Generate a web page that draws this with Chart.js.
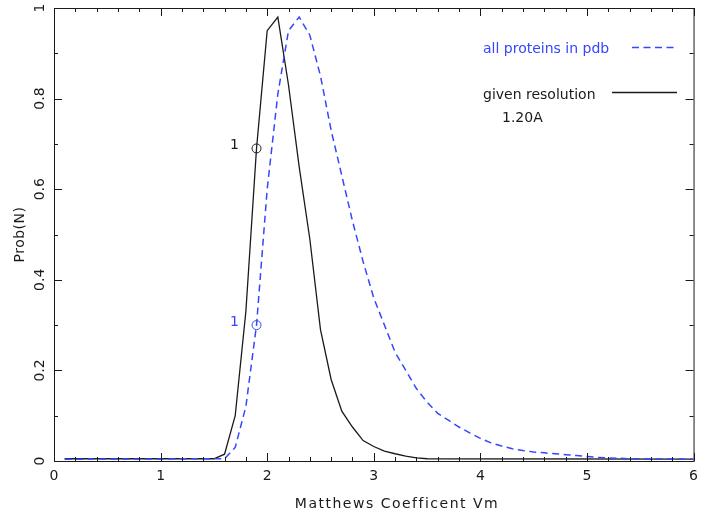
<!DOCTYPE html>
<html>
<head>
<meta charset="utf-8">
<script src="https://cdn.jsdelivr.net/npm/chart.js@4/dist/chart.umd.min.js"></script>
<style>
  html, body { margin: 0; padding: 0; background: #fff; }
  #wrap { width: 705px; height: 515px; }
</style>
</head>
<body>
<div id="wrap"><canvas id="c" width="705" height="515"></canvas></div>
<script>
// Matthews coefficient probability curves
const xAll = [0.1, 1.6, 1.7, 1.8, 1.9, 2.0, 2.1, 2.2, 2.3, 2.4, 2.5, 2.6, 2.7, 2.8, 2.9, 3.0,
              3.1, 3.2, 3.3, 3.4, 3.5, 3.6, 3.7, 3.8, 3.9, 4.0, 4.1, 4.2, 4.3, 4.4, 4.5,
              4.6, 4.7, 4.8, 4.9, 5.0, 5.1, 5.2, 5.3, 5.4, 6.0];
const yAll = [0.004, 0.005, 0.03, 0.12, 0.30, 0.60, 0.81, 0.95, 0.98, 0.94, 0.85, 0.73, 0.63, 0.53, 0.44, 0.36,
              0.30, 0.24, 0.20, 0.16, 0.13, 0.105, 0.09, 0.075, 0.062, 0.05, 0.04, 0.033, 0.027, 0.023, 0.02,
              0.018, 0.016, 0.014, 0.012, 0.010, 0.008, 0.007, 0.006, 0.005, 0.004];

const xRes = [0.1, 1.5, 1.6, 1.7, 1.8, 1.9, 2.0, 2.1, 2.2, 2.3, 2.4, 2.5, 2.6, 2.7, 2.8, 2.9, 3.0,
              3.1, 3.2, 3.3, 3.4, 3.5, 6.0];
const yRes = [0.005, 0.005, 0.015, 0.10, 0.33, 0.69, 0.95, 0.98, 0.83, 0.65, 0.49, 0.29, 0.18, 0.11, 0.075, 0.045, 0.032,
              0.022, 0.016, 0.011, 0.007, 0.005, 0.004];

// marked solution (number of molecules = 1) on each curve
const markX = [1.9];
const markAll = [0.30];
const markRes = [0.69];
const markText = ['1'];

const xTickLabels = ['0', '1', '2', '3', '4', '5', '6'];
const yTickLabels = ['0', '0.2', '0.4', '0.6', '0.8', '1'];

const legendAll = 'all proteins in pdb';
const legendRes = ['given resolution', '1.20A'];
const xTitle = 'Matthews Coefficent Vm';
const yTitle = 'Prob(N)';

const BLUE = '#3447ff';
const INK = '#1a1a1a';
const FONT = '"DejaVu Sans", "Liberation Sans", sans-serif';

const toPts = (xs, ys) => xs.map((x, i) => ({ x: x, y: ys[i] }));

function range(min, max, step) {
  const out = [];
  const n = Math.round((max - min) / step);
  for (let i = 0; i <= n; i++) out.push(+(min + i * step).toFixed(6));
  return out;
}

const decorations = {
  id: 'decorations',
  afterDatasetsDraw(chart) {
    const { ctx, chartArea: a, scales } = chart;
    const xs = scales.x, ys = scales.y;
    ctx.save();
    ctx.strokeStyle = INK;
    ctx.lineWidth = 1;
    // frame
    ctx.strokeRect(a.left + 0.5, a.top + 0.5, a.right - a.left, a.bottom - a.top);

    // inward ticks on all four sides
    ctx.beginPath();
    range(xs.min, xs.max, 0.2).forEach(v => {
      const px = Math.round(xs.getPixelForValue(v)) + 0.5;
      const major = Math.abs(v - Math.round(v)) < 1e-6;
      const len = major ? 8 : 4;
      ctx.moveTo(px, a.bottom); ctx.lineTo(px, a.bottom - len);
      ctx.moveTo(px, a.top); ctx.lineTo(px, a.top + len);
    });
    range(ys.min, ys.max, 0.1).forEach(v => {
      const py = Math.round(ys.getPixelForValue(v)) + 0.5;
      const major = Math.abs(v * 5 - Math.round(v * 5)) < 1e-6;
      const len = major ? 8 : 4;
      ctx.moveTo(a.left, py); ctx.lineTo(a.left + len, py);
      ctx.moveTo(a.right, py); ctx.lineTo(a.right - len, py);
    });
    ctx.stroke();

    // y tick labels, rotated
    ctx.fillStyle = INK;
    ctx.font = '14px ' + FONT;
    ctx.textAlign = 'center';
    ctx.textBaseline = 'middle';
    ys.ticks.forEach((t, i) => {
      const py = ys.getPixelForValue(t.value);
      ctx.save();
      ctx.translate(40, py);
      ctx.rotate(-Math.PI / 2);
      ctx.fillText(yTickLabels[i], 0, 0);
      ctx.restore();
    });

    // axis titles
    ctx.font = '14px ' + FONT;
    ctx.letterSpacing = '1.5px';
    ctx.textAlign = 'center';
    ctx.textBaseline = 'alphabetic';
    ctx.fillText(xTitle, 397, 508);
    ctx.letterSpacing = '0.5px';
    ctx.save();
    ctx.translate(24, (a.top + a.bottom) / 2);
    ctx.rotate(-Math.PI / 2);
    ctx.fillText(yTitle, 0, 0);
    ctx.restore();

    // legend
    ctx.textAlign = 'left';
    ctx.letterSpacing = '0px';
    ctx.font = '14px ' + FONT;
    ctx.fillStyle = BLUE;
    ctx.fillText(legendAll, 483, 53);
    ctx.strokeStyle = BLUE;
    ctx.lineWidth = 1.5;
    ctx.setLineDash([7, 4.5]);
    ctx.beginPath(); ctx.moveTo(632, 47.5); ctx.lineTo(676, 47.5); ctx.stroke();
    ctx.setLineDash([]);
    ctx.fillStyle = INK;
    ctx.fillText(legendRes[0], 483, 99);
    ctx.fillText(legendRes[1], 502, 122);
    ctx.strokeStyle = INK;
    ctx.lineWidth = 1.3;
    ctx.beginPath(); ctx.moveTo(612, 92.5); ctx.lineTo(677, 92.5); ctx.stroke();

    // solution labels next to the circles
    ctx.textAlign = 'center';
    ctx.textBaseline = 'middle';
    markX.forEach((x, i) => {
      const px = xs.getPixelForValue(x) - 22;
      ctx.fillStyle = INK;
      ctx.fillText(markText[i], px, ys.getPixelForValue(markRes[i]) - 3);
      ctx.fillStyle = BLUE;
      ctx.fillText(markText[i], px, ys.getPixelForValue(markAll[i]) - 3);
    });
    ctx.restore();
  }
};

new Chart(document.getElementById('c'), {
  type: 'line',
  data: {
    datasets: [
      {
        label: legendAll,
        data: toPts(xAll, yAll),
        borderColor: BLUE,
        borderWidth: 1.5,
        borderDash: [7, 4.5],
        pointRadius: 0,
        tension: 0,
        fill: false
      },
      {
        label: legendRes[0],
        data: toPts(xRes, yRes),
        borderColor: INK,
        borderWidth: 1.3,
        pointRadius: 0,
        tension: 0,
        fill: false
      },
      {
        type: 'scatter',
        data: toPts(markX, markAll),
        borderColor: BLUE,
        backgroundColor: 'rgba(0,0,0,0)',
        borderWidth: 1,
        pointRadius: 4.5,
        showLine: false
      },
      {
        type: 'scatter',
        data: toPts(markX, markRes),
        borderColor: INK,
        backgroundColor: 'rgba(0,0,0,0)',
        borderWidth: 1,
        pointRadius: 4.5,
        showLine: false
      }
    ]
  },
  options: {
    responsive: false,
    animation: false,
    layout: { padding: { left: 0, right: 8, top: 8, bottom: 0 } },
    plugins: { legend: { display: false }, tooltip: { enabled: false } },
    scales: {
      x: {
        type: 'linear',
        min: 0, max: 6,
        grid: { display: false, drawTicks: false },
        border: { display: false },
        ticks: {
          stepSize: 1,
          padding: 7,
          color: INK,
          font: { family: FONT, size: 14 },
          maxRotation: 0,
          callback: (v, i) => xTickLabels[i]
        },
        afterFit: s => { s.height = 54; }
      },
      y: {
        type: 'linear',
        min: 0, max: 1,
        grid: { display: false, drawTicks: false },
        border: { display: false },
        ticks: { stepSize: 0.2, display: false },
        afterFit: s => { s.width = 54; }
      }
    }
  },
  plugins: [decorations]
});
</script>
</body>
</html>
